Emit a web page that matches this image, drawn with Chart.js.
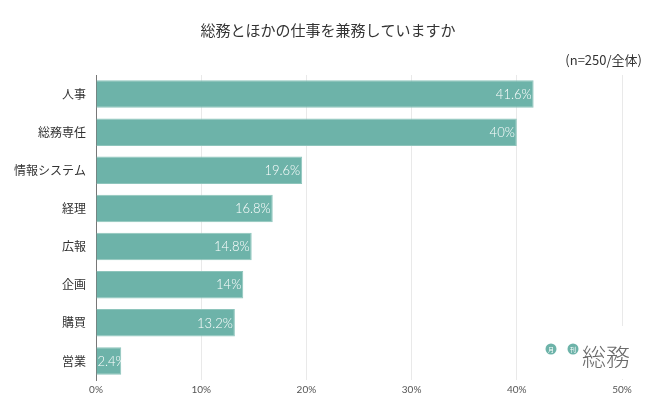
<!DOCTYPE html>
<html><head><meta charset="utf-8">
<script src="https://cdn.jsdelivr.net/npm/chart.js@4/dist/chart.umd.min.js"></script>
<style>html,body{margin:0;padding:0;background:#fff}#wrap{position:relative;width:650px;height:406px}</style>
</head><body><div id="wrap"><canvas id="c" width="650" height="406"></canvas></div>
<script>
const categories = ['人事','総務専任','情報システム','経理','広報','企画','購買','営業'];
const values = [41.6, 40, 19.6, 16.8, 14.8, 14, 13.2, 2.4];
const tickValues = [0, 10, 20, 30, 40, 50];
const titleText = '総務とほかの仕事を兼務していますか';
const noteText = '(n=250/全体)';
const logoSmall = ['月','刊'];
const logoBig = '総務';

const JP = '"Noto Sans CJK JP","Noto Sans",sans-serif';

const decor = {
  id: 'decor',
  afterDatasetsDraw(chart) {
    const ctx = chart.ctx;
    const meta = chart.getDatasetMeta(0);
    ctx.save();
    ctx.fillStyle = '#ffffff';
    ctx.font = '300 13px Lato, "Noto Sans", sans-serif';
    ctx.textAlign = 'left';
    ctx.textBaseline = 'middle';
    meta.data.forEach((bar, i) => {
      const t = values[i] + '%';
      const w = ctx.measureText(t).width;
      const x = Math.max(bar.x - 2 - w, bar.base + 1);
      ctx.fillText(t, x, bar.y + 0.5);
    });
    ctx.restore();
  },
  afterDraw(chart) {
    const ctx = chart.ctx;
    ctx.save();
    ctx.fillStyle = '#333333';
    ctx.font = '15px ' + JP;
    ctx.textAlign = 'center';
    ctx.textBaseline = 'middle';
    ctx.fillText(titleText, 328, 30);
    ctx.font = '13px ' + JP;
    ctx.textAlign = 'right';
    ctx.fillText(noteText, 642, 60);
    // logo
    ctx.fillStyle = '#ffffff';
    ctx.fillRect(535, 326, 110, 53);
    ctx.fillStyle = '#6db3a9';
    [551, 573].forEach((x) => {
      ctx.beginPath();
      ctx.arc(x, 349, 5.5, 0, Math.PI * 2);
      ctx.fill();
    });
    ctx.fillStyle = '#ffffff';
    ctx.font = '6px ' + JP;
    ctx.textAlign = 'center';
    ctx.fillText(logoSmall[0], 551, 349.5);
    ctx.fillText(logoSmall[1], 573, 349.5);
    ctx.fillStyle = '#6a6a6a';
    ctx.font = '300 24px ' + JP;
    ctx.textAlign = 'left';
    ctx.fillText(logoBig, 582, 357);
    ctx.restore();
  }
};

new Chart(document.getElementById('c'), {
  type: 'bar',
  data: {
    labels: categories,
    datasets: [{
      data: values,
      backgroundColor: '#6db3a9',
      borderColor: '#8ec5bc',
      borderWidth: 1,
      barPercentage: 0.72,
      categoryPercentage: 1.0
    }]
  },
  options: {
    indexAxis: 'y',
    responsive: false,
    animation: false,
    layout: { padding: { top: 75, right: 28, left: 0, bottom: 0 } },
    plugins: { legend: { display: false }, tooltip: { enabled: false } },
    scales: {
      x: {
        min: 0, max: 50,
        afterBuildTicks(scale) { scale.ticks = tickValues.map(v => ({ value: v })); },
        afterFit(scale) { scale.height = 26; },
        ticks: { callback: v => v + '%', color: '#555', font: { size: 10, family: 'Lato, "Noto Sans", sans-serif' }, padding: 4, maxRotation: 0 },
        grid: { color: '#e9e9e9', drawTicks: false, lineWidth: 1 },
        border: { display: false }
      },
      y: {
        afterFit(scale) { scale.width = 96; },
        ticks: { color: '#333', font: { size: 12, family: JP }, padding: 10 },
        grid: { display: false, drawTicks: false },
        border: { display: true, color: '#777', width: 1 }
      }
    }
  },
  plugins: [decor]
});
</script></body></html>
